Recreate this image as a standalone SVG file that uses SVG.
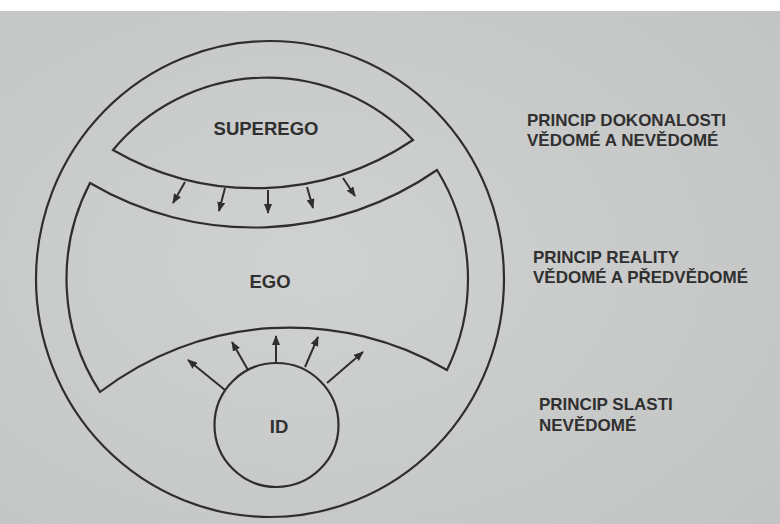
<svg xmlns="http://www.w3.org/2000/svg" width="780" height="524" viewBox="0 0 780 524">
<defs>
<style>
.ln{fill:none;stroke:#2e2e2e;stroke-width:2.2;stroke-linejoin:miter}
.ar{fill:none;stroke:#2e2e2e;stroke-width:2}
.lbl{font-family:"Liberation Sans",Arial,sans-serif;font-weight:bold;fill:#303030}
.node{font-size:18.5px;text-anchor:middle}
.side{font-size:17px}
</style>
<marker id="ah" viewBox="0 0 10 8" refX="9" refY="4" markerWidth="10" markerHeight="8" markerUnits="userSpaceOnUse" orient="auto">
<path d="M0,0 L10,4 L0,8 Z" fill="#2e2e2e"/>
</marker>
<radialGradient id="bg" cx="0.4" cy="0.5" r="0.8">
<stop offset="0" stop-color="#d0d1d1"/>
<stop offset="1" stop-color="#c2c3c3"/>
</radialGradient>
</defs>
<rect x="0" y="0" width="780" height="524" fill="url(#bg)"/>
<rect x="0" y="0" width="780" height="11" fill="#ffffff"/>

<g id="outer">
<ellipse class="ln" cx="270" cy="279" rx="234" ry="238"/>
</g>

<g id="superego">
<path class="ln" d="M113,150 A201,201 0 0 1 413,140 A283,283 0 0 1 113,150 Z"/>
<text class="lbl node" x="266" y="135">SUPEREGO</text>
</g>

<g id="ego">
<path class="ln" d="M90,183 A322,322 0 0 0 437,170 A202,205 0 0 1 447,370 A312,312 0 0 0 100,392 A202,205 0 0 1 90,183 Z"/>
<text class="lbl node" x="270" y="288">EGO</text>
</g>

<g id="id">
<circle class="ln" cx="276.5" cy="425" r="62"/>
<text class="lbl node" x="279" y="433">ID</text>
</g>

<g id="connectors">
<line class="ar" x1="185" y1="182" x2="173" y2="203" marker-end="url(#ah)"/>
<line class="ar" x1="225" y1="188" x2="219" y2="211" marker-end="url(#ah)"/>
<line class="ar" x1="268" y1="190" x2="268" y2="213" marker-end="url(#ah)"/>
<line class="ar" x1="307" y1="187" x2="313" y2="208" marker-end="url(#ah)"/>
<line class="ar" x1="343" y1="178" x2="355" y2="196" marker-end="url(#ah)"/>

<line class="ar" x1="225" y1="390" x2="188" y2="360" marker-end="url(#ah)"/>
<line class="ar" x1="248" y1="370" x2="232" y2="342" marker-end="url(#ah)"/>
<line class="ar" x1="276" y1="363" x2="276" y2="336" marker-end="url(#ah)"/>
<line class="ar" x1="305" y1="367" x2="318" y2="337" marker-end="url(#ah)"/>
<line class="ar" x1="327" y1="383" x2="363" y2="352" marker-end="url(#ah)"/>
</g>

<g id="labels">
<text class="lbl side" x="527" y="126">PRINCIP DOKONALOSTI</text>
<text class="lbl side" x="527" y="146">VĚDOMÉ A NEVĚDOMÉ</text>
<text class="lbl side" x="533" y="263">PRINCIP REALITY</text>
<text class="lbl side" x="533" y="283">VĚDOMÉ A PŘEDVĚDOMÉ</text>
<text class="lbl side" x="539" y="410">PRINCIP SLASTI</text>
<text class="lbl side" x="539" y="431">NEVĚDOMÉ</text>
</g>
</svg>
